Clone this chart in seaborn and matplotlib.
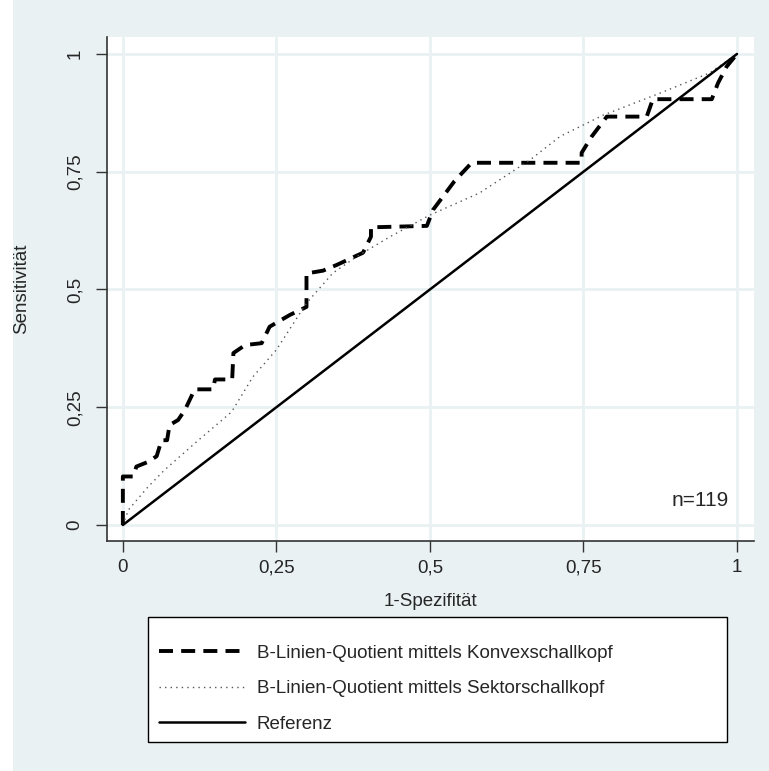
import matplotlib
matplotlib.use("Agg")
import matplotlib.pyplot as plt
from matplotlib.patches import Rectangle
import seaborn as sns

# ROC curve data
konvex_x = [0, 0, 0.017, 0.022, 0.041, 0.055, 0.063, 0.072, 0.076, 0.09, 0.101, 0.117,
            0.147, 0.15, 0.178, 0.18, 0.199, 0.226, 0.239, 0.272, 0.299, 0.299, 0.326,
            0.348, 0.391, 0.404, 0.404, 0.495, 0.505, 0.54, 0.568, 0.747, 0.747, 0.763,
            0.788, 0.853, 0.863, 0.959, 0.969, 0.983, 1.0]
konvex_y = [0, 0.103, 0.103, 0.124, 0.134, 0.146, 0.18, 0.18, 0.212, 0.223, 0.244, 0.288,
            0.288, 0.309, 0.309, 0.365, 0.382, 0.386, 0.421, 0.446, 0.463, 0.534, 0.54,
            0.552, 0.578, 0.612, 0.632, 0.635, 0.669, 0.73, 0.769, 0.769, 0.79, 0.824,
            0.867, 0.867, 0.904, 0.904, 0.938, 0.973, 1.0]

sektor_x = [0, 0.009, 0.041, 0.068, 0.123, 0.177, 0.212, 0.25, 0.299, 0.342, 0.381,
            0.435, 0.5, 0.581, 0.663, 0.712, 0.782, 0.875, 0.956, 1.0]
sektor_y = [0, 0.032, 0.081, 0.117, 0.18, 0.24, 0.315, 0.372, 0.471, 0.535, 0.57,
            0.612, 0.658, 0.705, 0.775, 0.825, 0.87, 0.917, 0.96, 1.0]

ref_x = [0, 1]
ref_y = [0, 1]

ticks = [0, 0.25, 0.5, 0.75, 1]
tick_labels = ["0", "0,25", "0,5", "0,75", "1"]

bg = "#E9F1F3"
sns.set_style("white")
plt.rcParams["font.family"] = ["Liberation Sans", "DejaVu Sans"]
fs = 13.5

fig = plt.figure(figsize=(7.69, 7.71), dpi=100, facecolor="white")
# graph region background (thin white strip on the left like the original export)
fig.patches.append(Rectangle((13 / 769, 0), 1, 1, transform=fig.transFigure,
                             facecolor=bg, edgecolor="none", zorder=-1))
ax = fig.add_axes([0.139, 0.2983, 0.8415, 0.6537])
ax.set_facecolor("white")

sns.lineplot(x=konvex_x, y=konvex_y, sort=False, estimator=None, ax=ax, color="black",
             lw=2.8, linestyle=(0, (3.6, 2.1)), label="B-Linien-Quotient mittels Konvexschallkopf")
sns.lineplot(x=sektor_x, y=sektor_y, sort=False, estimator=None, ax=ax, color="#555555",
             lw=1.0, linestyle=(0, (1, 3)), label="B-Linien-Quotient mittels Sektorschallkopf")
sns.lineplot(x=ref_x, y=ref_y, sort=False, estimator=None, ax=ax, color="black",
             lw=1.8, label="Referenz")

ax.set_xlim(-0.026, 1.0277)
ax.set_ylim(-0.034, 1.036)
ax.set_xticks(ticks)
ax.set_xticklabels(tick_labels)
ax.set_yticks(ticks)
ax.set_yticklabels(tick_labels, rotation=90, va="center")
ax.grid(True, color=bg, lw=2)
ax.set_axisbelow(True)
for s in ["top", "right"]:
    ax.spines[s].set_visible(False)
for s in ["left", "bottom"]:
    ax.spines[s].set_color("#333333")
    ax.spines[s].set_linewidth(1.2)
ax.tick_params(axis="both", direction="out", length=8, width=1, color="#333333",
               labelsize=fs, bottom=True, left=True)
ax.tick_params(axis="x", pad=5)
ax.tick_params(axis="y", pad=9)

ax.set_xlabel("1-Spezifität", fontsize=fs, labelpad=12)
ax.set_ylabel("Sensitivität", fontsize=fs, labelpad=26)

ax.text(0.94, 0.053, "n=119", fontsize=15, ha="center", va="center")

# legend box drawn separately so it can be wider than its content
fig.patches.append(Rectangle((0.1925, 0.0376), 0.7529, 0.1621, transform=fig.transFigure,
                             facecolor="white", edgecolor="black", lw=1.0, zorder=0))
ax.get_legend().remove()
handles, labels = ax.get_legend_handles_labels()
leg = fig.legend(handles, labels, loc="upper left", bbox_to_anchor=(0.207, 0.1636),
                 fontsize=fs, frameon=False, handlelength=4.6, handletextpad=0.6,
                 labelspacing=0.97, borderpad=0, borderaxespad=0)

fig.savefig("out.png", dpi=100, facecolor="white")
